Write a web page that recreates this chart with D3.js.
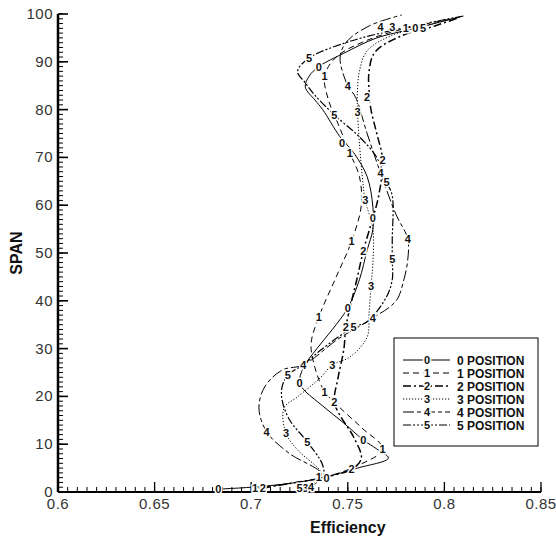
<!DOCTYPE html>
<html>
<head>
<meta charset="utf-8">
<script src="https://cdn.jsdelivr.net/npm/d3@7"></script>
<style>
  body { margin: 0; background: #fff; }
  svg { display: block; font-family: "Liberation Sans", Arial, sans-serif; }
  .tick-label { font-size: 15px; fill: #333; letter-spacing: 0.5px; }
  .axis-title { font-size: 16px; font-weight: bold; fill: #111; }
  .mark { font-size: 11px; font-weight: bold; fill: #111; stroke: #fff; stroke-width: 3px; paint-order: stroke; }
  .leg { font-family: "Liberation Sans Narrow", "Arial Narrow", sans-serif; font-size: 12px; font-weight: bold; fill: #111; }
</style>
</head>
<body>
<div id="chart"></div>
<script>
// [efficiency, span] pairs
var pos0 = [[0.683,0.6],[0.70,1.0],[0.72,1.8],[0.737,3],[0.755,5],[0.771,7.1],[0.765,9],[0.758,10.9],[0.748,14.4],[0.737,18],[0.727,21.5],[0.725,23],[0.727,26],[0.734,30],[0.742,34],[0.750,38.5],[0.756,44.4],[0.760,50.6],[0.763,55],[0.763,59.6],[0.760,66],[0.753,71],[0.746,74.3],[0.737,80],[0.733,82],[0.728,84.7],[0.730,87],[0.735,89],[0.748,91.8],[0.765,95],[0.785,97],[0.808,99.4]];
var pos1 = [[0.702,0.8],[0.72,1.8],[0.737,3],[0.755,5.5],[0.768,9],[0.757,13.5],[0.745,18],[0.738,21],[0.733,26],[0.731,31],[0.735,36.6],[0.744,45],[0.752,52.5],[0.757,60],[0.756,66],[0.751,71],[0.745,77],[0.740,82],[0.738,87],[0.744,91],[0.76,94.5],[0.78,97],[0.807,99.2]];
var pos2 = [[0.706,0.8],[0.72,1.8],[0.737,3],[0.752,4.8],[0.757,7],[0.753,11.5],[0.746,16],[0.743,18.8],[0.745,24],[0.748,30],[0.749,34.5],[0.752,40],[0.755,45],[0.758,50.4],[0.762,56],[0.766,62],[0.768,69.5],[0.765,75],[0.762,80],[0.761,84],[0.761,88],[0.764,92],[0.777,95.3],[0.795,97.5],[0.808,99.3]];
var pos3 = [[0.728,0.9],[0.733,2.2],[0.736,4],[0.724,8.8],[0.718,12.3],[0.717,17.6],[0.724,19.9],[0.736,24],[0.742,26.6],[0.751,28.2],[0.760,32.4],[0.761,37.4],[0.762,43],[0.763,48],[0.763,55],[0.759,61],[0.758,64],[0.756,73],[0.755,80],[0.755,84],[0.756,88],[0.760,92.3],[0.772,95.4],[0.79,97.5],[0.806,99.2]];
var pos4 = [[0.731,1],[0.735,2.5],[0.736,4],[0.72,8],[0.708,12.6],[0.704,17.6],[0.707,22],[0.716,25.5],[0.727,26.6],[0.745,32],[0.763,36.4],[0.775,40],[0.779,44.4],[0.781,48.5],[0.781,53],[0.775,58],[0.767,66.7],[0.760,75],[0.754,82.6],[0.750,85],[0.746,90.8],[0.749,94],[0.761,97.5],[0.778,99.8]];
var pos5 = [[0.725,0.9],[0.737,3],[0.737,5.6],[0.729,10.5],[0.720,15],[0.716,19.2],[0.716,22],[0.719,24.5],[0.727,26.6],[0.736,29.7],[0.753,34.5],[0.760,35.6],[0.770,40.8],[0.773,44.4],[0.773,48.7],[0.773,52.7],[0.773,62],[0.770,64.9],[0.765,70],[0.756,74.3],[0.743,78.9],[0.733,83],[0.728,85.6],[0.724,88],[0.730,90.8],[0.749,94],[0.767,96],[0.79,98],[0.81,99.6]];

// symbol positions along each curve
var mark0 = [[0.683,0.6],[0.739,3],[0.758,10.9],[0.725,22.8],[0.750,38.5],[0.763,57.3],[0.747,73],[0.735,89],[0.785,97]];
var mark1 = [[0.702,0.8],[0.735,3.1],[0.768,9],[0.738,21],[0.735,36.6],[0.752,52.5],[0.751,71],[0.738,87],[0.780,97]];
var mark2 = [[0.706,0.8],[0.752,4.8],[0.743,18.8],[0.749,34.5],[0.758,50.4],[0.768,69.5],[0.760,82.6]];
var mark3 = [[0.728,0.9],[0.718,12.3],[0.742,26.6],[0.762,43],[0.759,61],[0.755,79.5],[0.773,97.3]];
var mark4 = [[0.731,1],[0.708,12.6],[0.727,26.6],[0.763,36.4],[0.781,53],[0.767,66.7],[0.750,85],[0.767,97.3]];
var mark5 = [[0.725,0.9],[0.729,10.5],[0.719,24.5],[0.753,34.5],[0.773,48.7],[0.770,64.9],[0.743,78.9],[0.730,90.8],[0.789,97]];

var seriesNames = ["0 POSITION", "1 POSITION", "2 POSITION", "3 POSITION", "4 POSITION", "5 POSITION"];
var xTicks = [0.6, 0.65, 0.7, 0.75, 0.8, 0.85];
var yTicks = [0, 10, 20, 30, 40, 50, 60, 70, 80, 90, 100];

var curves = [pos0, pos1, pos2, pos3, pos4, pos5];
var marks = [mark0, mark1, mark2, mark3, mark4, mark5];
var dashes = ["none", "6,4", "8,3,2,3", "1.2,1.8", "11,3,4,3", "8,2,2,2,2,2"];
var widths = [1, 1, 1.5, 1, 1, 1.2];

var svgWidth = 556, svgHeight = 541;
var margin = { top: 14, right: 15, bottom: 49, left: 58 };
var width = svgWidth - margin.left - margin.right;
var height = svgHeight - margin.top - margin.bottom;

var svg = d3.select("#chart").append("svg")
  .attr("width", svgWidth)
  .attr("height", svgHeight);

var g = svg.append("g")
  .attr("transform", `translate(${margin.left}, ${margin.top})`);

var x = d3.scaleLinear().domain([0.6, 0.85]).range([0, width]);
var y = d3.scaleLinear().domain([0, 100]).range([height, 0]);

// minor ticks (inside)
var xMinor = d3.range(0, 51).map(i => 0.6 + i * 0.005);
var yMinor = d3.range(0, 101);

g.selectAll(".xminor").data(xMinor).enter().append("line")
  .attr("x1", d => x(d)).attr("x2", d => x(d))
  .attr("y1", height).attr("y2", height - 5)
  .attr("stroke", "#000").attr("stroke-width", 1);
g.selectAll(".xmajor").data(xTicks).enter().append("line")
  .attr("x1", d => x(d)).attr("x2", d => x(d))
  .attr("y1", height).attr("y2", height - 10)
  .attr("stroke", "#000").attr("stroke-width", 1.3);
g.selectAll(".yminor").data(yMinor).enter().append("line")
  .attr("y1", d => y(d)).attr("y2", d => y(d))
  .attr("x1", 0).attr("x2", 5)
  .attr("stroke", "#000").attr("stroke-width", 1);
g.selectAll(".ymajor").data(yTicks).enter().append("line")
  .attr("y1", d => y(d)).attr("y2", d => y(d))
  .attr("x1", 0).attr("x2", 10)
  .attr("stroke", "#000").attr("stroke-width", 1.6);

// axis lines
g.append("line").attr("x1", 0).attr("x2", width).attr("y1", height).attr("y2", height)
  .attr("stroke", "#000").attr("stroke-width", 2);
g.append("line").attr("x1", 0).attr("x2", 0).attr("y1", 0).attr("y2", height)
  .attr("stroke", "#000").attr("stroke-width", 2.5);

// tick labels
g.selectAll(".xlab").data(xTicks).enter().append("text")
  .attr("class", "tick-label")
  .attr("x", d => x(d)).attr("y", height + 17)
  .attr("text-anchor", "middle")
  .text(d => d3.format("")(d));
g.selectAll(".ylab").data(yTicks).enter().append("text")
  .attr("class", "tick-label")
  .attr("x", -5).attr("y", d => y(d) + 5)
  .attr("text-anchor", "end")
  .text(d => d);

// axis titles
g.append("text").attr("class", "axis-title")
  .attr("x", x(0.75)).attr("y", height + 41)
  .attr("text-anchor", "middle").text("Efficiency");
g.append("text").attr("class", "axis-title")
  .attr("transform", `translate(${-36}, ${y(50)}) rotate(-90)`)
  .attr("text-anchor", "middle").text("SPAN");

// curves
var line = d3.line()
  .x(d => x(d[0]))
  .y(d => y(d[1]))
  .curve(d3.curveCatmullRom.alpha(0.5));

curves.forEach(function(c, i) {
  g.append("path")
    .attr("d", line(c))
    .attr("fill", "none")
    .attr("stroke", "#000")
    .attr("stroke-width", widths[i])
    .attr("stroke-dasharray", dashes[i]);
});

// curve symbols
marks.forEach(function(m, i) {
  g.selectAll(".m" + i).data(m).enter().append("text")
    .attr("class", "mark")
    .attr("x", d => x(d[0])).attr("y", d => y(d[1]) + 4)
    .attr("text-anchor", "middle")
    .text(i);
});

// legend
var legend = svg.append("g").attr("transform", "translate(394, 338)");
legend.append("rect")
  .attr("width", 144).attr("height", 108)
  .attr("fill", "#fff").attr("stroke", "#000").attr("stroke-width", 1);
seriesNames.forEach(function(name, i) {
  var ly = 22 + i * 13;
  legend.append("line")
    .attr("x1", 9).attr("x2", 56).attr("y1", ly).attr("y2", ly)
    .attr("stroke", "#000").attr("stroke-width", widths[i])
    .attr("stroke-dasharray", dashes[i]);
  legend.append("text").attr("class", "mark")
    .attr("x", 33).attr("y", ly + 4)
    .attr("text-anchor", "middle").text(i);
  legend.append("text").attr("class", "leg")
    .attr("x", 63).attr("y", ly + 4.5)
    .text(name);
});
</script>
</body>
</html>
